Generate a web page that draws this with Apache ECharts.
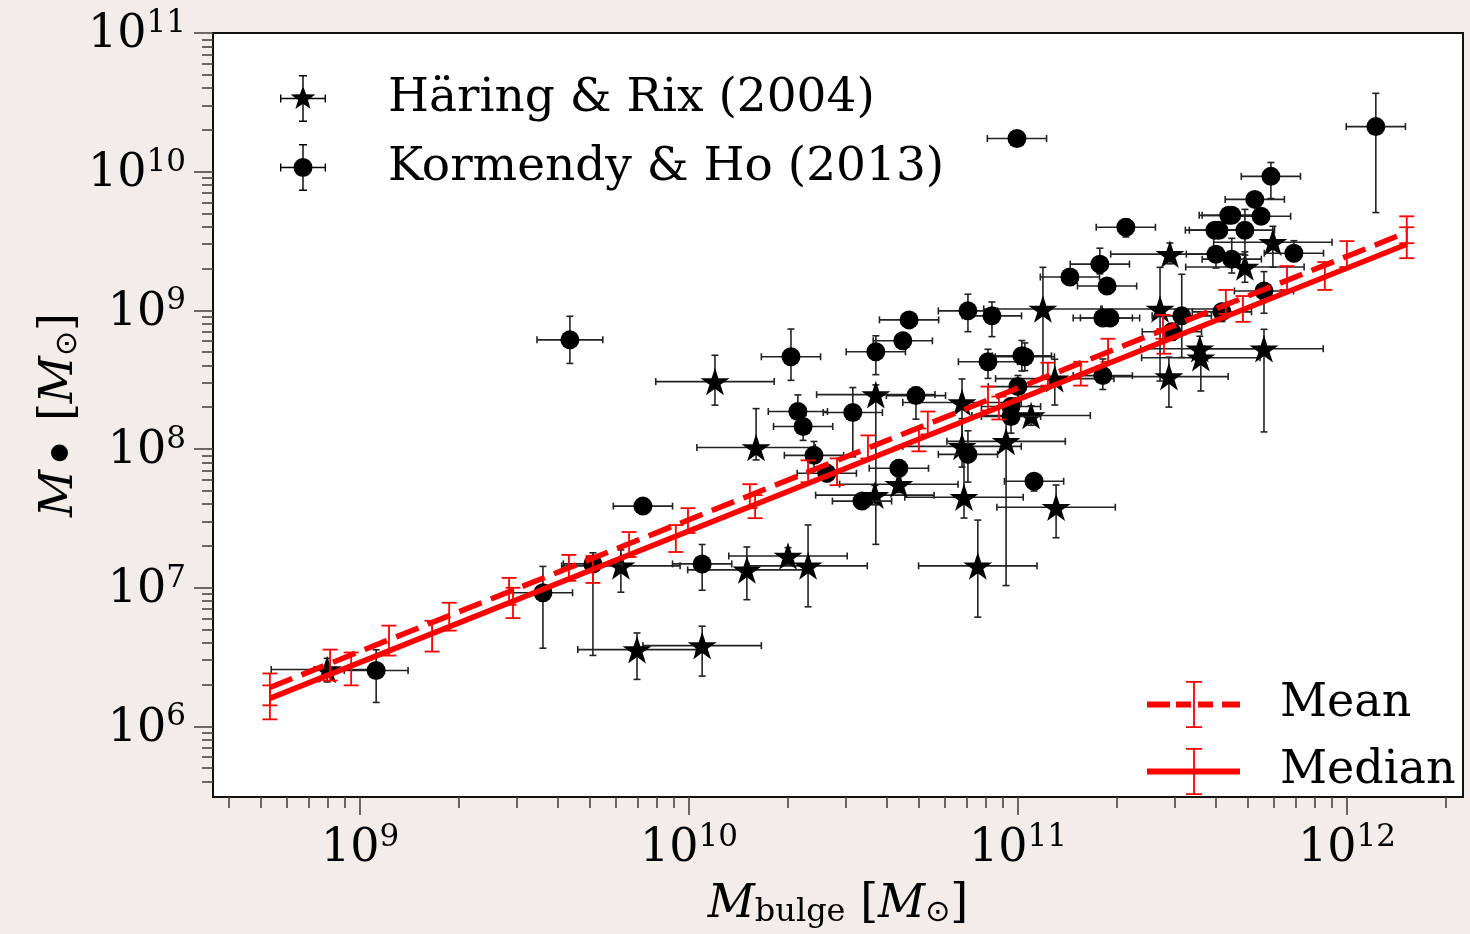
<!DOCTYPE html>
<html><head><meta charset="utf-8">
<script src="https://cdn.jsdelivr.net/npm/echarts@6/dist/echarts.min.js"></script>
<style>html,body{margin:0;padding:0;background:#f2ede9;}#c{width:1470px;height:934px;}</style>
</head><body><div id="c"></div>
<script>
// ---- data (log10 of masses in solar masses) ----
const haringLogMbulge = [8.90, 9.793, 9.842, 10.040, 10.079, 10.176, 10.204, 10.301, 10.362, 10.568, 10.565, 10.638, 10.830, 10.830, 10.836, 10.878, 10.964, 11.040, 11.076, 11.112, 11.116, 11.432, 11.459, 11.462, 11.553, 11.556, 11.690, 11.748, 11.775];
const haringLogMbh = [6.41, 7.157, 6.553, 6.582, 8.486, 7.128, 8.011, 7.228, 7.157, 8.392, 7.667, 7.746, 8.335, 8.019, 7.652, 7.157, 8.055, 8.241, 9.010, 8.507, 7.580, 9.010, 8.522, 9.405, 8.723, 8.658, 9.312, 8.723, 9.491];
const haringErrMbulge = [0.17, 0.18, 0.18, 0.18, 0.18, 0.18, 0.18, 0.18, 0.18, 0.18, 0.18, 0.18, 0.18, 0.18, 0.18, 0.18, 0.18, 0.18, 0.18, 0.18, 0.18, 0.18, 0.18, 0.18, 0.18, 0.18, 0.18, 0.18, 0.18];
const haringErrMbhUp = [0.08, 0.115, 0.12, 0.14, 0.19, 0.165, 0.28, 0.06, 0.295, 0.07, 0.07, 0.06, 0.17, 0.2, 0.35, 0.33, 0.22, 0.07, 0.30, 0.14, 0.16, 0.30, 0.14, 0.08, 0.09, 0.07, 0.11, 0.14, 0.115];
const haringErrMbhDown = [0.09, 0.19, 0.215, 0.22, 0.17, 0.215, 0.09, 0.06, 0.295, 1.08, 0.07, 0.06, 0.3, 0.15, 0.15, 0.37, 1.04, 0.07, 0.50, 0.19, 0.22, 0.52, 0.22, 0.07, 0.07, 0.24, 0.11, 0.60, 0.18];

const kormendyLogMbulge = [9.049, 9.638, 9.556, 9.708, 9.860, 10.040, 10.310, 10.331, 10.347, 10.380, 10.419, 10.498, 10.568, 10.650, 10.669, 10.690, 10.638, 10.526, 10.848, 10.921, 10.909, 11.012, 11.021, 11.000, 10.979, 10.979, 10.848, 11.049, 10.997, 11.158, 11.249, 11.271, 11.258, 11.280, 11.258, 11.328, 11.498, 11.468, 11.620, 11.748, 11.839, 11.602, 11.650, 11.599, 11.611, 11.690, 11.641, 11.650, 11.739, 11.720, 11.769, 12.088];
const kormendyLogMbh = [6.402, 8.787, 6.963, 7.171, 7.588, 7.171, 8.665, 8.270, 8.162, 7.954, 7.825, 8.263, 8.701, 8.780, 8.931, 8.385, 7.861, 7.624, 8.996, 8.960, 8.629, 8.672, 8.665, 8.450, 8.306, 8.234, 7.961, 7.767, 10.239, 9.240, 9.333, 9.175, 8.945, 8.945, 8.529, 9.599, 8.960, 8.845, 8.989, 9.139, 9.412, 9.405, 9.369, 9.578, 9.578, 9.578, 9.685, 9.685, 9.678, 9.800, 9.966, 10.325];
const kormendyErrMbulge = [0.097, 0.10, 0.09, 0.09, 0.09, 0.09, 0.09, 0.09, 0.09, 0.09, 0.09, 0.09, 0.09, 0.09, 0.09, 0.09, 0.09, 0.09, 0.09, 0.09, 0.09, 0.09, 0.09, 0.09, 0.09, 0.09, 0.09, 0.09, 0.09, 0.09, 0.09, 0.09, 0.09, 0.09, 0.09, 0.09, 0.09, 0.09, 0.09, 0.09, 0.09, 0.09, 0.09, 0.09, 0.09, 0.09, 0.09, 0.09, 0.09, 0.09, 0.09, 0.09];
const kormendyErrMbhUp = [0.15, 0.17, 0.19, 0.08, 0.04, 0.14, 0.20, 0.12, 0.08, 0.10, 0.06, 0.18, 0.115, 0.06, 0.05, 0.06, 0.06, 0.05, 0.12, 0.10, 0.09, 0.11, 0.10, 0.08, 0.06, 0.06, 0.17, 0.05, 0.05, 0.04, 0.115, 0.05, 0.06, 0.06, 0.12, 0.06, 0.30, 0.06, 0.06, 0.14, 0.09, 0.05, 0.15, 0.05, 0.05, 0.15, 0.05, 0.05, 0.05, 0.05, 0.10, 0.24];
const kormendyErrMbhDown = [0.23, 0.17, 0.40, 0.66, 0.04, 0.19, 0.17, 0.10, 0.10, 0.10, 0.06, 0.32, 0.165, 0.06, 0.05, 0.17, 0.06, 0.05, 0.15, 0.15, 0.12, 0.11, 0.10, 0.08, 0.06, 0.12, 0.20, 0.07, 0.05, 0.04, 0.07, 0.05, 0.06, 0.06, 0.10, 0.07, 0.30, 0.06, 0.07, 0.16, 0.06, 0.10, 0.10, 0.05, 0.05, 0.18, 0.05, 0.05, 0.05, 0.05, 0.16, 0.62];

const meanLogMbulge = [8.726, 8.909, 9.088, 9.271, 9.453, 9.635, 9.818, 9.997, 10.185, 10.362, 10.544, 10.726, 10.909, 11.091, 11.274, 11.441, 11.632, 11.818, 12.000, 12.182];
const meanLogMbhLow = [6.151, 6.330, 6.510, 6.690, 6.876, 7.049, 7.221, 7.394, 7.573, 7.760, 7.932, 8.105, 8.277, 8.457, 8.629, 8.795, 8.974, 9.147, 9.312, 9.484];
const meanLogMbhHigh = [6.381, 6.553, 6.726, 6.891, 7.070, 7.236, 7.401, 7.573, 7.746, 7.918, 8.098, 8.270, 8.450, 8.622, 8.795, 8.967, 9.147, 9.319, 9.499, 9.678];
const meanLineX = [8.726, 12.182];
const meanLineY = [6.280, 9.562];

const medianLogMbulge = [8.726, 8.973, 9.219, 9.465, 9.708, 9.960, 10.201, 10.450, 10.699, 10.942, 11.191, 11.444, 11.684, 11.933, 12.182];
const medianLogMbhLow = [6.050, 6.295, 6.539, 6.780, 7.034, 7.257, 7.501, 7.739, 7.983, 8.213, 8.457, 8.687, 8.917, 9.147, 9.376];
const medianLogMbhHigh = [6.295, 6.532, 6.761, 6.999, 7.228, 7.451, 7.667, 7.932, 8.148, 8.378, 8.629, 8.866, 9.103, 9.348, 9.599];
const medianLineX = [8.726, 12.182];
const medianLineY = [6.201, 9.476];

const xTickExponents = [9, 10, 11, 12];
const yTickExponents = [6, 7, 8, 9, 10, 11];
const xRange = [8.553, 12.353];
const yRange = [5.49, 11.0];
const legendNames = ['Häring & Rix (2004)', 'Kormendy & Ho (2013)', 'Mean', 'Median'];

// ---- build ----
function minorTicks(lo, hi) {
  const out = [];
  for (let e = Math.floor(lo) - 1; e <= Math.ceil(hi); e++) {
    for (let k = 2; k <= 9; k++) {
      const v = e + Math.log10(k);
      if (v > lo && v < hi) out.push(v);
    }
  }
  return out;
}
const FONT = 'DejaVu Serif';
const FS = 46;
const labelRich = {
  b: {fontFamily: FONT, fontSize: FS, color: '#000'},
  s: {fontFamily: FONT, fontSize: 31, color: '#000', padding: [0, 0, 23, 0]}
};
const expFormatter = v => '{b|10}{s|' + Math.round(v) + '}';
const nameRich = {
  m: {fontFamily: FONT, fontStyle: 'italic', fontSize: FS, color: '#000'},
  t: {fontFamily: FONT, fontSize: FS, color: '#000'},
  sub: {fontFamily: FONT, fontSize: 32, color: '#000', padding: [16, 0, 0, 0]},
  subs: {fontFamily: 'DejaVu Sans', fontSize: 30, color: '#000', padding: [16, 0, 0, 0]},
  bul: {fontFamily: 'DejaVu Sans', fontSize: 58, color: '#000', padding: [12, 0, 0, 0]}
};

function errData(xs, ys, xe, up, dn) {
  return xs.map((x, i) => [x, ys[i], x - xe[i], x + xe[i], ys[i] - dn[i], ys[i] + up[i]]);
}
function errRender(params, api) {
  const x = api.value(0), y = api.value(1);
  const pL = api.coord([api.value(2), y]), pR = api.coord([api.value(3), y]);
  const pB = api.coord([x, api.value(4)]), pT = api.coord([x, api.value(5)]);
  const st = {stroke: '#222', lineWidth: 1.6};
  const c = 3.5;
  const ln = (x1, y1, x2, y2) => ({type: 'line', shape: {x1, y1, x2, y2}, style: st});
  return {type: 'group', children: [
    ln(pL[0], pL[1], pR[0], pR[1]),
    ln(pL[0], pL[1] - c, pL[0], pL[1] + c),
    ln(pR[0], pR[1] - c, pR[0], pR[1] + c),
    ln(pB[0], pB[1], pT[0], pT[1]),
    ln(pB[0] - c, pB[1], pB[0] + c, pB[1]),
    ln(pT[0] - c, pT[1], pT[0] + c, pT[1])
  ]};
}
function redBarRender(params, api) {
  const x = api.value(0);
  const p1 = api.coord([x, api.value(1)]), p2 = api.coord([x, api.value(2)]);
  const st = {stroke: '#ff0000', lineWidth: 1.8};
  const c = 7.5;
  return {type: 'group', children: [
    {type: 'line', shape: {x1: p1[0], y1: p1[1], x2: p2[0], y2: p2[1]}, style: st},
    {type: 'line', shape: {x1: p1[0] - c, y1: p1[1], x2: p1[0] + c, y2: p1[1]}, style: st},
    {type: 'line', shape: {x1: p2[0] - c, y1: p2[1], x2: p2[0] + c, y2: p2[1]}, style: st}
  ]};
}

const STAR = 'path://M0,-100L22.45,-30.9L95.1,-30.9L36.33,11.8L58.8,80.9L0,38.2L-58.8,80.9L-36.33,11.8L-95.1,-30.9L-22.45,-30.9Z';
const CROSS = 'M0 22.8H46V24.2H0Z M0 19.5H1.4V27.5H0Z M44.6 19.5H46V27.5H44.6Z M22.3 0H23.7V47H22.3Z M19 0H27V1.4H19Z M19 45.6H27V47H19Z';
const STAR_ICON = 'path://' + CROSS + ' M23 10.5L26.1 19.3L35.4 19.4L27.9 25.1L30.6 34.1L23 28.7L15.4 34.1L18.1 25.1L10.6 19.4L19.9 19.3Z';
const CIRCLE_ICON = 'path://' + CROSS + ' M13.5 23.5A9.5 9.5 0 1 1 32.5 23.5A9.5 9.5 0 1 1 13.5 23.5Z';
const BAR = ' M46.1 0H47.9V47H46.1Z M39 0H55V1.8H39Z M39 45.2H55V47H39Z';
const MEAN_ICON = 'path://M0 20.5H23V26.5H0Z M29 20.5H44V26.5H29Z M51 20.5H66V26.5H51Z M75 20.5H93V26.5H75Z' + BAR;
const MEDIAN_ICON = 'path://M0 20.5H93V26.5H0Z' + BAR;

const chart = echarts.init(document.getElementById('c'), null, {renderer: 'canvas'});
const legendText = {fontFamily: FONT, fontSize: 47, color: '#000'};
chart.setOption({
  backgroundColor: '#f2ede9',
  animation: false,
  grid: {left: 213, right: 7, top: 33, bottom: 134, show: true, backgroundColor: '#ffffff', borderColor: '#111', borderWidth: 2},
  xAxis: [
    {type: 'value', min: xRange[0], max: xRange[1], position: 'bottom',
     axisLine: {show: false}, splitLine: {show: false},
     axisTick: {show: true, customValues: xTickExponents, length: 18, lineStyle: {color: '#444', width: 1.6}},
     axisLabel: {customValues: xTickExponents, margin: 25, formatter: expFormatter, rich: labelRich},
     name: '{m|M}{sub|bulge}{t| [}{m|M}{subs|⊙}{t|]}', nameLocation: 'middle', nameGap: 84,
     nameTextStyle: {rich: nameRich}},
    {type: 'value', min: xRange[0], max: xRange[1], position: 'bottom',
     axisLine: {show: false}, splitLine: {show: false},
     axisTick: {show: true, customValues: minorTicks(xRange[0], xRange[1]), length: 11, lineStyle: {color: '#444', width: 1.6}},
     axisLabel: {show: false}}
  ],
  yAxis: [
    {type: 'value', min: yRange[0], max: yRange[1], position: 'left',
     axisLine: {show: false}, splitLine: {show: false},
     axisTick: {show: true, customValues: yTickExponents, length: 19, lineStyle: {color: '#444', width: 1.6}},
     axisLabel: {customValues: yTickExponents, margin: 27, formatter: expFormatter, rich: labelRich, padding: [5, 0, 0, 0]},
     name: '{m|M}{bul|•}{t| [}{m|M}{subs|⊙}{t|]}', nameLocation: 'middle', nameGap: 118, nameRotate: 90,
     nameMoveOverlap: false,
     nameTextStyle: {rich: nameRich}},
    {type: 'value', min: yRange[0], max: yRange[1], position: 'left',
     axisLine: {show: false}, splitLine: {show: false},
     axisTick: {show: true, customValues: minorTicks(yRange[0], yRange[1]), length: 11, lineStyle: {color: '#444', width: 1.6}},
     axisLabel: {show: false}}
  ],
  legend: [
    {data: [{name: legendNames[0], icon: STAR_ICON, itemStyle: {color: '#000', borderWidth: 0}},
            {name: legendNames[1], icon: CIRCLE_ICON, itemStyle: {color: '#000', borderWidth: 0}}],
     orient: 'vertical', left: 280, top: 75, padding: 0, itemWidth: 46, itemHeight: 47, itemGap: 22,
     selectedMode: false, symbolKeepAspect: false, textStyle: Object.assign({padding: [0, 0, 0, 57]}, legendText)},
    {data: [{name: legendNames[2], icon: MEAN_ICON, itemStyle: {color: '#ff0000', borderWidth: 0}},
            {name: legendNames[3], icon: MEDIAN_ICON, itemStyle: {color: '#ff0000', borderWidth: 0}}],
     orient: 'vertical', left: 1147, top: 681, padding: 0, itemWidth: 93, itemHeight: 47, itemGap: 20,
     selectedMode: false, symbolKeepAspect: false, textStyle: Object.assign({padding: [0, 0, 0, 35]}, legendText, {fontSize: 46})}
  ],
  series: [
    {name: legendNames[0], type: 'custom', renderItem: errRender, z: 2,
     data: errData(haringLogMbulge, haringLogMbh, haringErrMbulge, haringErrMbhUp, haringErrMbhDown),
     encode: {x: [0, 2, 3], y: [1, 4, 5]}},
    {name: legendNames[0], type: 'scatter', symbol: STAR, symbolSize: 29, symbolKeepAspect: true, z: 3,
     itemStyle: {color: '#000', opacity: 1}, data: haringLogMbulge.map((x, i) => [x, haringLogMbh[i]])},
    {name: legendNames[1], type: 'custom', renderItem: errRender, z: 4,
     data: errData(kormendyLogMbulge, kormendyLogMbh, kormendyErrMbulge, kormendyErrMbhUp, kormendyErrMbhDown),
     encode: {x: [0, 2, 3], y: [1, 4, 5]}},
    {name: legendNames[1], type: 'scatter', symbol: 'circle', symbolSize: 19, z: 5,
     itemStyle: {color: '#000', opacity: 1}, data: kormendyLogMbulge.map((x, i) => [x, kormendyLogMbh[i]])},
    {name: legendNames[2], type: 'custom', renderItem: redBarRender, z: 6,
     data: meanLogMbulge.map((x, i) => [x, meanLogMbhLow[i], meanLogMbhHigh[i]]), encode: {x: 0, y: [1, 2]}},
    {name: legendNames[3], type: 'custom', renderItem: redBarRender, z: 6,
     data: medianLogMbulge.map((x, i) => [x, medianLogMbhLow[i], medianLogMbhHigh[i]]), encode: {x: 0, y: [1, 2]}},
    {name: legendNames[2], type: 'line', showSymbol: false, z: 7, color: '#ff0000',
     lineStyle: {color: '#ff0000', width: 5.5, type: [24, 10]},
     data: meanLineX.map((x, i) => [x, meanLineY[i]])},
    {name: legendNames[3], type: 'line', showSymbol: false, z: 7, color: '#ff0000',
     lineStyle: {color: '#ff0000', width: 5.5},
     data: medianLineX.map((x, i) => [x, medianLineY[i]])}
  ]
});
</script></body></html>
